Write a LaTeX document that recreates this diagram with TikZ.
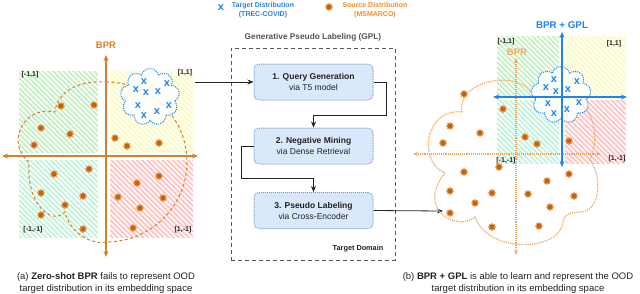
\documentclass[tikz,border=0pt]{standalone}
\usepackage{fontspec}
\setmainfont{Liberation Sans}
\usetikzlibrary{arrows.meta,shapes.geometric,shapes.symbols,patterns.meta}

\definecolor{bprorange}{HTML}{D6802C}
\definecolor{bprlight}{HTML}{F4A55C}
\definecolor{srcstar}{HTML}{C4620C}
\definecolor{srchalo}{HTML}{E8A060}
\definecolor{gplblue}{HTML}{1C86EE}
\definecolor{boxfill}{HTML}{DAE8FC}
\definecolor{boxline}{HTML}{6C9EE6}
\definecolor{quadgreen}{HTML}{C6F0C6}
\definecolor{quadmint}{HTML}{C4F3DC}
\definecolor{quadyellow}{HTML}{FBFBC2}
\definecolor{quadred}{HTML}{FFC4C4}
\definecolor{legorange}{HTML}{F28C28}
\definecolor{legblue}{HTML}{2B80DA}
\definecolor{darktext}{HTML}{222222}
\definecolor{gplgrey}{HTML}{555555}

\tikzset{
  quadrant/.style={pattern={Lines[angle=-45,distance=3.6pt,line width=1.9pt]}, pattern color=#1},
  srcpoint/.style={star, star points=8, star point ratio=1.5, fill=srcstar, draw=srchalo,
    line width=0.6pt, inner sep=0pt, minimum size=7.5pt},
  tgtpoint/.style={text=gplblue, inner sep=0pt, font=\bfseries\fontsize{11}{11}\selectfont},
  corner/.style={font=\bfseries\fontsize{7}{7}\selectfont, text=darktext, inner sep=0pt},
  axislabel/.style={font=\bfseries\fontsize{9.5}{9.5}\selectfont, inner sep=0pt},
  bpraxis/.style={bprorange, line width=1.4pt, {Stealth[length=6pt,width=5pt]}-{Stealth[length=6pt,width=5pt]}},
  bprdotted/.style={bprlight, densely dotted, line width=1.1pt, {Stealth[length=5pt,width=4pt]}-{Stealth[length=5pt,width=4pt]}},
  gplaxis/.style={gplblue, line width=1.4pt, {Stealth[length=6pt,width=5pt]}-{Stealth[length=6pt,width=5pt]}},
  tgtcloud/.style={cloud, cloud puffs=9, cloud ignores aspect, draw=gplblue, densely dotted, line width=1pt,
    fill=white, fill opacity=0.85, inner sep=0pt},
  gplstep/.style={draw=boxline, densely dotted, line width=1pt, fill=boxfill, rounded corners=5pt,
    minimum width=119pt, minimum height=36pt, align=center, text=darktext, font=\fontsize{8.5}{11}\selectfont},
  link/.style={darktext, line width=0.8pt, -{Stealth[length=6pt,width=5pt]}},
  caption/.style={align=center, font=\fontsize{9.5}{12}\selectfont, text=darktext},
}

\begin{document}
\begin{tikzpicture}[x=1pt, y=-1pt]
    \useasboundingbox (0,0) rectangle (640,293);

    % Legend
    \node[tgtpoint] (legx) at (221,8) {x};
    \node[align=center, text=legblue, font=\bfseries\fontsize{7}{9}\selectfont] (legtgt) at (263,10) {Target Distribution\\(TREC-COVID)};
    \node[srcpoint] (legstar) at (329,7) {};
    \node[align=center, text=legorange, font=\bfseries\fontsize{7}{9}\selectfont] (legsrc) at (375,10) {Source Distribution\\(MSMARCO)};

    % (a) Zero-shot BPR
    \begin{scope}
        % Hatched quadrants
        \path[quadrant=quadgreen] (19,71) rectangle (98,152);
        \path[quadrant=quadyellow] (110,71) rectangle (193,152);
        \path[quadrant=quadmint] (19,160) rectangle (98,237);
        \path[quadrant=quadred] (110,160) rectangle (193,237);
        \node[corner] (qa1) at (30,75) {[-1,1]};
        \node[corner] (qa2) at (185,73) {[1,1]};
        \node[corner] (qa3) at (33,230) {[-1,-1]};
        \node[corner] (qa4) at (183,230) {[1,-1]};
        % Source cloud
        \draw[bprorange, line width=1pt, dash pattern=on 3pt off 2.5pt] (106,82)
            arc[start angle=-90, end angle=90, x radius=81, y radius=80]
            .. controls (90,245) and (70,232) .. (65,212)
            .. controls (52,226) and (26,205) .. (29,162)
            .. controls (6,145) and (22,105) .. (55,112)
            .. controls (57,92) and (78,80) .. (106,82) -- cycle;
        % Axes
        \coordinate (aw) at (2,156);
        \coordinate (ae) at (198,156);
        \coordinate (as) at (106,257);
        \coordinate (an) at (106,55);
        \draw[bpraxis] (aw) -- (ae);
        \draw[bpraxis] (as) -- (an);
        \node[axislabel, text=bprorange] (bprA) at (106,45) {BPR};
        % Target cloud
        \node[tgtcloud, minimum width=59pt, minimum height=57pt] (tcloudA) at (150,97) {};
        \foreach \x/\y [count=\i] in {61/106, 94/105, 41/128, 70/134, 34/145, 115/138, 127/146,
            159/143, 54/174, 89/169, 41/193, 83/196, 65/205, 41/215, 83/229, 137/183, 159/176,
            118/197, 163/198, 140/208, 133/228}
            \node[srcpoint] (sa\i) at (\x,\y) {};
        \foreach \x/\y [count=\i] in {144/82, 167/84, 136/90, 146/93, 158/92, 138/106, 169/106,
            157/112, 144/116}
            \node[tgtpoint] (ta\i) at (\x,\y) {x};
    \end{scope}

    % Generative Pseudo Labeling
    \node[draw=gplgrey, line width=0.9pt, dash pattern=on 4pt off 3pt, minimum width=164pt,
        minimum height=212pt, inner sep=0pt] (gpl) at (313,154) {};
    \node[text=gplgrey, font=\bfseries\fontsize{8.3}{8.3}\selectfont] (gpltitle) at (313,37) {Generative Pseudo Labeling (GPL)};
    \node[text=darktext, font=\bfseries\fontsize{7.3}{7.3}\selectfont] (domain) at (358,249) {Target Domain};
    \node[gplstep] (q1) at (313.5,82) {\textbf{1. Query Generation}\\via T5 model};
    \node[gplstep] (q2) at (313.5,146) {\textbf{2. Negative Mining}\\via Dense Retrieval};
    \node[gplstep] (q3) at (313.5,210.5) {\textbf{3. Pseudo Labeling}\\via Cross-Encoder};
    \draw[link] (q1.east) -- ++(13,0) -- ++(0,33) -| (q2.north);
    \draw[link] (q2.west) -- ++(-12,0) -- ++(0,32) -| (q3.north);
    \coordinate (zsout) at (195,82);
    \coordinate (gplin) at (443,211);
    \draw[link] (zsout) -- (q1.west);
    \draw[link] (q3.east) -- (gplin);

    % (b) BPR + GPL
    \begin{scope}
        % Hatched quadrants
        \path[quadrant=quadgreen] (497,36) rectangle (559,95);
        \path[quadrant=quadyellow] (565,36) rectangle (626,95);
        \path[quadrant=quadmint] (497,100) rectangle (559,163);
        \path[quadrant=quadred] (565,100) rectangle (626,163);
        \node[corner] (qb1) at (506,42) {[-1,1]};
        \node[corner] (qb2) at (614,44) {[1,1]};
        \node[corner] (qb3) at (506,161) {[-1,-1]};
        \node[corner] (qb4) at (617,159) {[1,-1]};
        % Old BPR axes
        \coordinate (bw) at (413,154);
        \coordinate (be) at (601,154);
        \coordinate (bs) at (516,255);
        \coordinate (bn) at (516,58);
        \draw[bprdotted] (bw) -- (be);
        \draw[bprdotted] (bs) -- (bn);
        \node[axislabel, text=bprlight] (bprB) at (517,52) {BPR};
        % Source cloud
        \draw[bprlight, densely dotted, line width=1.2pt] (462,112)
            .. controls (456,80) and (518,70) .. (530,92)
            .. controls (585,82) and (605,125) .. (590,160)
            .. controls (603,178) and (600,212) .. (580,212)
            .. controls (568,212) and (563,216) .. (563,222)
            .. controls (560,252) and (488,254) .. (475,217)
            .. controls (458,232) and (415,210) .. (445,173)
            .. controls (418,162) and (424,108) .. (462,112) -- cycle;
        % Target cloud
        \node[tgtcloud, minimum width=60pt, minimum height=57pt] (tcloudB) at (561,95) {};
        % New axes
        \coordinate (cw) at (493,97);
        \coordinate (ce) at (627,97);
        \coordinate (cs) at (562,167);
        \coordinate (cn) at (562,32);
        \draw[gplaxis] (cw) -- (ce);
        \draw[gplaxis] (cs) -- (cn);
        \node[axislabel, text=gplblue, font=\bfseries\fontsize{9.8}{9.8}\selectfont] (bprgpl) at (562,25) {BPR + GPL};
        \foreach \x/\y [count=\i] in {464/94, 503/109, 450/126, 480/133, 443/143, 525/137, 537/144,
            569/141, 464/172, 499/167, 450/191, 492/193, 475/203, 450/213, 492/227, 547/181, 569/174,
            528/194, 574/196, 550/207, 539/226}
            \node[srcpoint] (sb\i) at (\x,\y) {};
        \foreach \x/\y [count=\i] in {554/80, 577/82, 546/88, 556/92, 568/90, 548/104, 579/103,
            567/110, 554/114}
            \node[tgtpoint] (tb\i) at (\x,\y) {x};
    \end{scope}

    % Captions
    \node[caption] (capA) at (106,283) {(a) \textbf{Zero-shot BPR} fails to represent OOD\\target distribution in its embedding space};
    \node[caption] (capB) at (518,283) {(b) \textbf{BPR + GPL} is able to learn and represent the OOD\\target distribution in its embedding space};
\end{tikzpicture}
\end{document}
